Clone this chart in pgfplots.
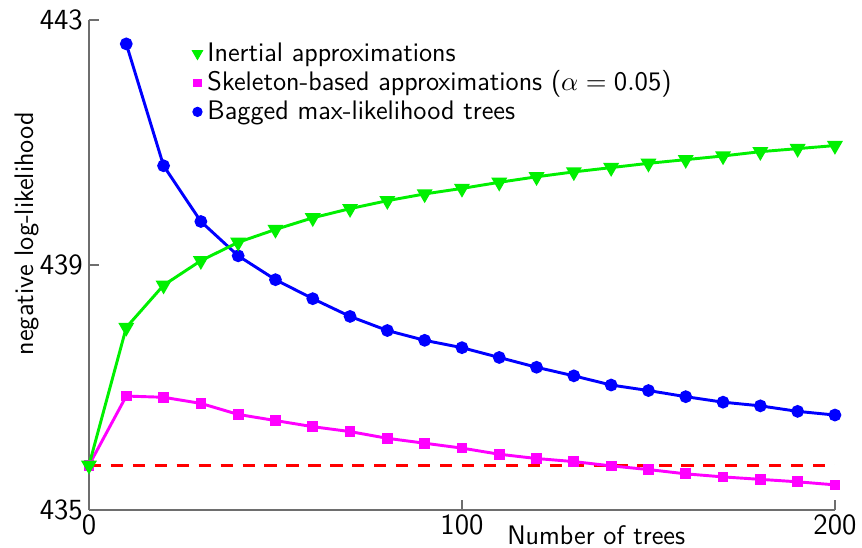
\documentclass[border=0pt]{standalone}
\usepackage{pgfplots}
\pgfplotsset{compat=1.18}
\definecolor{cgreen}{RGB}{0,240,0}
\definecolor{cmag}{RGB}{255,0,255}
\definecolor{axgray}{RGB}{110,110,110}
\begin{document}
\sffamily
\begin{tikzpicture}
\begin{axis}[
  scale only axis, width=306pt, height=201pt,
  at={(0,0)}, anchor=south west,
  xmin=0, xmax=200, ymin=435, ymax=443,
  axis x line*=bottom, axis y line*=left,
  axis line style={-, axgray, line width=0.6pt},
  tick style={axgray, line width=0.5pt}, tick align=inside,
  major tick length=4pt,
  xtick={0,100,200}, ytick={435,439,443},
  /pgf/number format/assume math mode=true,
  /pgf/number format/1000 sep={},
  ticklabel style={font=\sffamily\fontsize{12}{13}\selectfont},
  xticklabel style={yshift=1.5pt},
  yticklabel style={xshift=1pt},
  xlabel={Number of trees},
  xlabel style={at={(axis description cs:0.68,0)}, anchor=north, yshift=-3pt, font=\sffamily\fontsize{11}{12}\selectfont},
  ylabel={negative log-likelihood},
  ylabel style={at={(axis description cs:-0.083,0.564)}, anchor=center, font=\sffamily\fontsize{11}{12}\selectfont},
  legend style={at={(axis description cs:0.138,0.965)}, anchor=north west, draw=none, fill=none,
     font=\sffamily\fontsize{11}{12}\selectfont, row sep=-1.5pt, inner sep=0pt},
  legend cell align=left,
  legend image code/.code={\draw[#1] plot coordinates {(0.12cm,0cm)};},
  /tikz/every even column/.append style={column sep=0pt},
]
\addlegendimage{only marks, mark=triangle*, mark options={rotate=180}, mark size=2.4pt, color=cgreen}
\addlegendentry{Inertial approximations}
\addlegendimage{only marks, mark=square*, mark size=1.5pt, color=cmag}
\addlegendentry{Skeleton-based approximations ($\alpha = \mathsf{0.05}$)}
\addlegendimage{only marks, mark=*, mark size=1.9pt, color=blue}
\addlegendentry{Bagged max-likelihood trees}

\addplot[forget plot, red, dashed, line width=1.1pt, dash pattern=on 5pt off 4pt] coordinates {(0,435.73) (200,435.73)};

\addplot[forget plot, cmag, line width=1.2pt, mark=square*, mark size=1.6pt] coordinates {
(0,435.73) (10,436.86) (20,436.84) (30,436.74) (40,436.56) (50,436.46) (60,436.36) (70,436.28) (80,436.17) (90,436.09) (100,436.01)
(110,435.91) (120,435.84) (130,435.79) (140,435.72) (150,435.66) (160,435.59) (170,435.54) (180,435.50) (190,435.46) (200,435.41)};

\addplot[forget plot, blue, line width=1.2pt, mark=*, mark size=2pt] coordinates {
(10,442.61) (20,440.62) (30,439.71) (40,439.15) (50,438.76) (60,438.45) (70,438.16) (80,437.93) (90,437.77) (100,437.65)
(110,437.49) (120,437.33) (130,437.19) (140,437.04) (150,436.95) (160,436.85) (170,436.76) (180,436.70) (190,436.61) (200,436.55)};

\addplot[forget plot, cgreen, line width=1.2pt, mark=triangle*, mark options={rotate=180}, mark size=2.6pt] coordinates {
(0,435.73) (10,437.98) (20,438.67) (30,439.07) (40,439.37) (50,439.58) (60,439.77) (70,439.92) (80,440.05) (90,440.16) (100,440.25)
(110,440.35) (120,440.44) (130,440.52) (140,440.59) (150,440.66) (160,440.72) (170,440.78) (180,440.85) (190,440.90) (200,440.95)};
\end{axis}
\pgfresetboundingbox
\useasboundingbox (-36.5pt,-15.2pt) rectangle (317.1pt,209.2pt);
\end{tikzpicture}
\end{document}
